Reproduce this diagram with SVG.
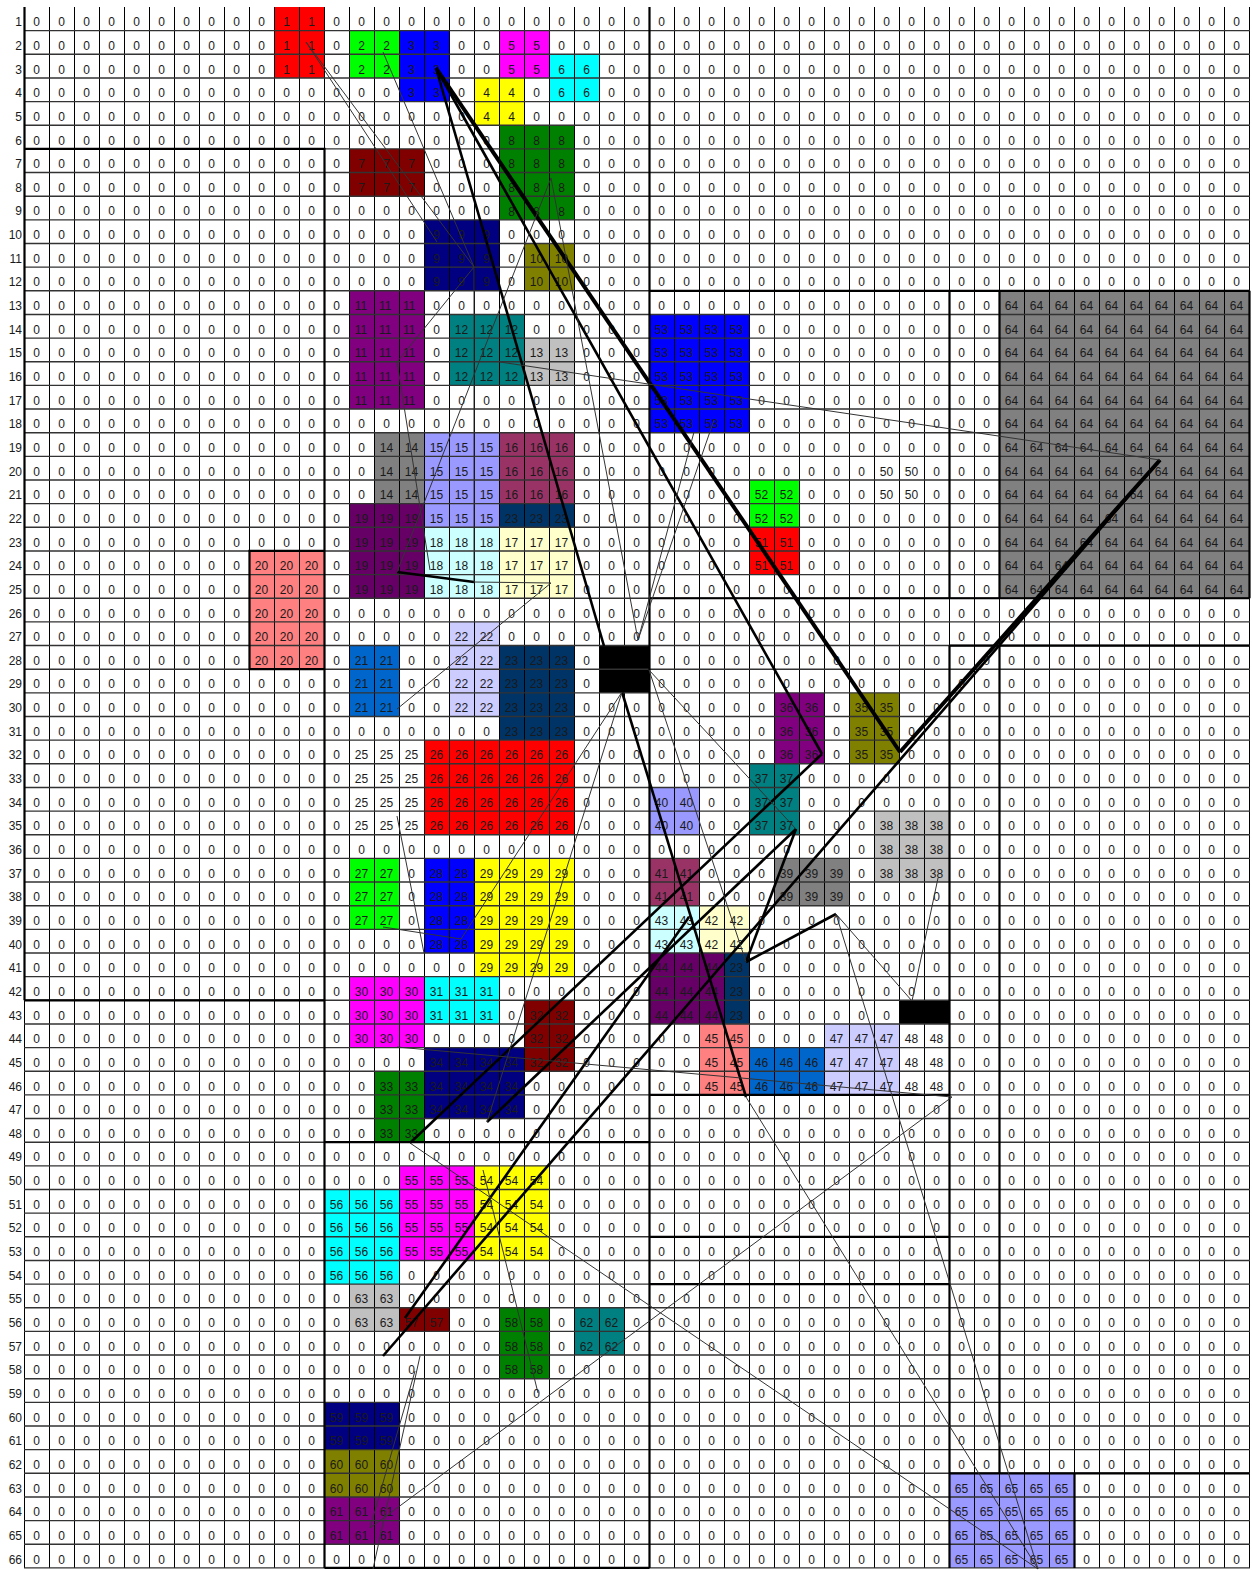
<svg xmlns="http://www.w3.org/2000/svg" width="1252" height="1570" viewBox="0 0 1252 1570">
<style>
text{font-family:"Liberation Sans",Arial,sans-serif;font-size:12px;fill:#1a1a1a}
.rn{text-anchor:end}
.z,.s1{word-spacing:14.992px}
.s2{word-spacing:8.318px}
.grid{fill:none;stroke:#000;stroke-width:1}
.hgrid{fill:none;stroke:#333;stroke-width:1.4}
.bord{fill:none;stroke:#000;stroke-width:2.2}
.c1{stroke:#333;stroke-width:1;fill:none}
.c3{stroke:#000;stroke-width:2.6;fill:none}
.c4{stroke:#000;stroke-width:4;fill:none}
</style>
<rect width="1252" height="1570" fill="#fff"/>
<g id="rows">
<g transform="translate(0,7)"><text class="rn" x="22" y="19.3">1</text><text class="z" x="33.16" y="19.3">0 0 0 0 0 0 0 0 0 0</text><text class="z" x="333.16" y="19.3">0 0 0 0 0 0 0 0 0 0 0 0 0 0 0 0 0 0 0 0 0 0 0 0 0 0 0 0 0 0 0 0 0 0 0 0 0</text></g>
<g transform="translate(0,30.65)"><text class="rn" x="22" y="19.3">2</text><text class="z" x="33.16" y="19.3">0 0 0 0 0 0 0 0 0 0</text><text class="z" x="333.16" y="19.3">0</text><text class="z" x="458.16" y="19.3">0 0</text><text class="z" x="558.16" y="19.3">0 0 0 0 0 0 0 0 0 0 0 0 0 0 0 0 0 0 0 0 0 0 0 0 0 0 0 0</text></g>
<g transform="translate(0,54.3)"><text class="rn" x="22" y="19.3">3</text><text class="z" x="33.16" y="19.3">0 0 0 0 0 0 0 0 0 0</text><text class="z" x="333.16" y="19.3">0</text><text class="z" x="458.16" y="19.3">0 0</text><text class="z" x="608.16" y="19.3">0 0 0 0 0 0 0 0 0 0 0 0 0 0 0 0 0 0 0 0 0 0 0 0 0 0</text></g>
<g transform="translate(0,77.95)"><text class="rn" x="22" y="19.3">4</text><text class="z" x="33.16" y="19.3">0 0 0 0 0 0 0 0 0 0 0 0 0 0 0</text><text class="z" x="458.16" y="19.3">0</text><text class="z" x="533.16" y="19.3">0</text><text class="z" x="608.16" y="19.3">0 0 0 0 0 0 0 0 0 0 0 0 0 0 0 0 0 0 0 0 0 0 0 0 0 0</text></g>
<g transform="translate(0,101.6)"><text class="rn" x="22" y="19.3">5</text><text class="z" x="33.16" y="19.3">0 0 0 0 0 0 0 0 0 0 0 0 0 0 0 0 0 0</text><text class="z" x="533.16" y="19.3">0 0 0 0 0 0 0 0 0 0 0 0 0 0 0 0 0 0 0 0 0 0 0 0 0 0 0 0 0</text></g>
<g transform="translate(0,125.25)"><text class="rn" x="22" y="19.3">6</text><text class="z" x="33.16" y="19.3">0 0 0 0 0 0 0 0 0 0 0 0 0 0 0 0 0 0 0</text><text class="z" x="583.16" y="19.3">0 0 0 0 0 0 0 0 0 0 0 0 0 0 0 0 0 0 0 0 0 0 0 0 0 0 0</text></g>
<g transform="translate(0,148.9)"><text class="rn" x="22" y="19.3">7</text><text class="z" x="33.16" y="19.3">0 0 0 0 0 0 0 0 0 0 0 0 0</text><text class="z" x="433.16" y="19.3">0 0 0</text><text class="z" x="583.16" y="19.3">0 0 0 0 0 0 0 0 0 0 0 0 0 0 0 0 0 0 0 0 0 0 0 0 0 0 0</text></g>
<g transform="translate(0,172.55)"><text class="rn" x="22" y="19.3">8</text><text class="z" x="33.16" y="19.3">0 0 0 0 0 0 0 0 0 0 0 0 0</text><text class="z" x="433.16" y="19.3">0 0 0</text><text class="z" x="583.16" y="19.3">0 0 0 0 0 0 0 0 0 0 0 0 0 0 0 0 0 0 0 0 0 0 0 0 0 0 0</text></g>
<g transform="translate(0,196.2)"><text class="rn" x="22" y="19.3">9</text><text class="z" x="33.16" y="19.3">0 0 0 0 0 0 0 0 0 0 0 0 0 0 0 0 0 0 0</text><text class="z" x="583.16" y="19.3">0 0 0 0 0 0 0 0 0 0 0 0 0 0 0 0 0 0 0 0 0 0 0 0 0 0 0</text></g>
<g transform="translate(0,219.85)"><text class="rn" x="22" y="19.3">10</text><text class="z" x="33.16" y="19.3">0 0 0 0 0 0 0 0 0 0 0 0 0 0 0 0</text><text class="z" x="508.16" y="19.3">0 0 0 0 0 0 0 0 0 0 0 0 0 0 0 0 0 0 0 0 0 0 0 0 0 0 0 0 0 0</text></g>
<g transform="translate(0,243.5)"><text class="rn" x="22" y="19.3">11</text><text class="z" x="33.16" y="19.3">0 0 0 0 0 0 0 0 0 0 0 0 0 0 0 0</text><text class="z" x="508.16" y="19.3">0</text><text class="z" x="583.16" y="19.3">0 0 0 0 0 0 0 0 0 0 0 0 0 0 0 0 0 0 0 0 0 0 0 0 0 0 0</text></g>
<g transform="translate(0,267.15)"><text class="rn" x="22" y="19.3">12</text><text class="z" x="33.16" y="19.3">0 0 0 0 0 0 0 0 0 0 0 0 0 0 0 0</text><text class="z" x="508.16" y="19.3">0</text><text class="z" x="583.16" y="19.3">0 0 0 0 0 0 0 0 0 0 0 0 0 0 0 0 0 0 0 0 0 0 0 0 0 0 0</text></g>
<g transform="translate(0,290.8)"><text class="rn" x="22" y="19.3">13</text><text class="z" x="33.16" y="19.3">0 0 0 0 0 0 0 0 0 0 0 0 0</text><text class="z" x="433.16" y="19.3">0 0 0 0 0 0 0 0 0 0 0 0 0 0 0 0 0 0 0 0 0 0 0</text></g>
<g transform="translate(0,314.45)"><text class="rn" x="22" y="19.3">14</text><text class="z" x="33.16" y="19.3">0 0 0 0 0 0 0 0 0 0 0 0 0</text><text class="z" x="433.16" y="19.3">0</text><text class="z" x="533.16" y="19.3">0 0 0 0 0</text><text class="z" x="758.16" y="19.3">0 0 0 0 0 0 0 0 0 0</text></g>
<g transform="translate(0,338.1)"><text class="rn" x="22" y="19.3">15</text><text class="z" x="33.16" y="19.3">0 0 0 0 0 0 0 0 0 0 0 0 0</text><text class="z" x="433.16" y="19.3">0</text><text class="z" x="583.16" y="19.3">0 0 0</text><text class="z" x="758.16" y="19.3">0 0 0 0 0 0 0 0 0 0</text></g>
<g transform="translate(0,361.75)"><text class="rn" x="22" y="19.3">16</text><text class="z" x="33.16" y="19.3">0 0 0 0 0 0 0 0 0 0 0 0 0</text><text class="z" x="433.16" y="19.3">0</text><text class="z" x="583.16" y="19.3">0 0 0</text><text class="z" x="758.16" y="19.3">0 0 0 0 0 0 0 0 0 0</text></g>
<g transform="translate(0,385.4)"><text class="rn" x="22" y="19.3">17</text><text class="z" x="33.16" y="19.3">0 0 0 0 0 0 0 0 0 0 0 0 0</text><text class="z" x="433.16" y="19.3">0 0 0 0 0 0 0 0 0</text><text class="z" x="758.16" y="19.3">0 0 0 0 0 0 0 0 0 0</text></g>
<g transform="translate(0,409.05)"><text class="rn" x="22" y="19.3">18</text><text class="z" x="33.16" y="19.3">0 0 0 0 0 0 0 0 0 0 0 0 0 0 0 0 0 0 0 0 0 0 0 0 0</text><text class="z" x="758.16" y="19.3">0 0 0 0 0 0 0 0 0 0</text></g>
<g transform="translate(0,432.7)"><text class="rn" x="22" y="19.3">19</text><text class="z" x="33.16" y="19.3">0 0 0 0 0 0 0 0 0 0 0 0 0 0</text><text class="z" x="583.16" y="19.3">0 0 0 0 0 0 0 0 0 0 0 0 0 0 0 0 0</text></g>
<g transform="translate(0,456.35)"><text class="rn" x="22" y="19.3">20</text><text class="z" x="33.16" y="19.3">0 0 0 0 0 0 0 0 0 0 0 0 0 0</text><text class="z" x="583.16" y="19.3">0 0 0 0 0 0 0 0 0 0 0 0</text><text class="z" x="933.16" y="19.3">0 0 0</text></g>
<g transform="translate(0,480)"><text class="rn" x="22" y="19.3">21</text><text class="z" x="33.16" y="19.3">0 0 0 0 0 0 0 0 0 0 0 0 0 0</text><text class="z" x="583.16" y="19.3">0 0 0 0 0 0 0</text><text class="z" x="808.16" y="19.3">0 0 0</text><text class="z" x="933.16" y="19.3">0 0 0</text></g>
<g transform="translate(0,503.65)"><text class="rn" x="22" y="19.3">22</text><text class="z" x="33.16" y="19.3">0 0 0 0 0 0 0 0 0 0 0 0 0</text><text class="z" x="583.16" y="19.3">0 0 0 0 0 0 0</text><text class="z" x="808.16" y="19.3">0 0 0 0 0 0 0 0</text></g>
<g transform="translate(0,527.3)"><text class="rn" x="22" y="19.3">23</text><text class="z" x="33.16" y="19.3">0 0 0 0 0 0 0 0 0 0 0 0 0</text><text class="z" x="583.16" y="19.3">0 0 0 0 0 0 0</text><text class="z" x="808.16" y="19.3">0 0 0 0 0 0 0 0</text></g>
<g transform="translate(0,550.95)"><text class="rn" x="22" y="19.3">24</text><text class="z" x="33.16" y="19.3">0 0 0 0 0 0 0 0 0</text><text class="z" x="333.16" y="19.3">0</text><text class="z" x="583.16" y="19.3">0 0 0 0 0 0 0</text><text class="z" x="808.16" y="19.3">0 0 0 0 0 0 0 0</text></g>
<g transform="translate(0,574.6)"><text class="rn" x="22" y="19.3">25</text><text class="z" x="33.16" y="19.3">0 0 0 0 0 0 0 0 0</text><text class="z" x="333.16" y="19.3">0</text><text class="z" x="583.16" y="19.3">0 0 0 0 0 0 0 0 0 0 0 0 0 0 0 0 0</text></g>
<g transform="translate(0,598.25)"><text class="rn" x="22" y="19.3">26</text><text class="z" x="33.16" y="19.3">0 0 0 0 0 0 0 0 0</text><text class="z" x="333.16" y="19.3">0 0 0 0 0 0 0 0 0 0 0 0 0 0 0 0 0 0 0 0 0 0 0 0 0 0 0 0 0 0 0 0 0 0 0 0 0</text></g>
<g transform="translate(0,621.9)"><text class="rn" x="22" y="19.3">27</text><text class="z" x="33.16" y="19.3">0 0 0 0 0 0 0 0 0</text><text class="z" x="333.16" y="19.3">0 0 0 0 0</text><text class="z" x="508.16" y="19.3">0 0 0 0 0 0 0 0 0 0 0 0 0 0 0 0 0 0 0 0 0 0 0 0 0 0 0 0 0 0</text></g>
<g transform="translate(0,645.55)"><text class="rn" x="22" y="19.3">28</text><text class="z" x="33.16" y="19.3">0 0 0 0 0 0 0 0 0</text><text class="z" x="333.16" y="19.3">0</text><text class="z" x="408.16" y="19.3">0 0</text><text class="z" x="583.16" y="19.3">0</text><text class="z" x="658.16" y="19.3">0 0 0 0 0 0 0 0 0 0 0 0 0 0 0 0 0 0 0 0 0 0 0 0</text></g>
<g transform="translate(0,669.2)"><text class="rn" x="22" y="19.3">29</text><text class="z" x="33.16" y="19.3">0 0 0 0 0 0 0 0 0 0 0 0 0</text><text class="z" x="408.16" y="19.3">0 0</text><text class="z" x="583.16" y="19.3">0</text><text class="z" x="658.16" y="19.3">0 0 0 0 0 0 0 0 0 0 0 0 0 0 0 0 0 0 0 0 0 0 0 0</text></g>
<g transform="translate(0,692.85)"><text class="rn" x="22" y="19.3">30</text><text class="z" x="33.16" y="19.3">0 0 0 0 0 0 0 0 0 0 0 0 0</text><text class="z" x="408.16" y="19.3">0 0</text><text class="z" x="583.16" y="19.3">0 0 0 0 0 0 0 0</text><text class="z" x="833.16" y="19.3">0</text><text class="z" x="908.16" y="19.3">0 0 0 0 0 0 0 0 0 0 0 0 0 0</text></g>
<g transform="translate(0,716.5)"><text class="rn" x="22" y="19.3">31</text><text class="z" x="33.16" y="19.3">0 0 0 0 0 0 0 0 0 0 0 0 0 0 0 0 0 0 0</text><text class="z" x="583.16" y="19.3">0 0 0 0 0 0 0 0</text><text class="z" x="833.16" y="19.3">0</text><text class="z" x="908.16" y="19.3">0 0 0 0 0 0 0 0 0 0 0 0 0 0</text></g>
<g transform="translate(0,740.15)"><text class="rn" x="22" y="19.3">32</text><text class="z" x="33.16" y="19.3">0 0 0 0 0 0 0 0 0 0 0 0 0</text><text class="z" x="583.16" y="19.3">0 0 0 0 0 0 0 0</text><text class="z" x="833.16" y="19.3">0</text><text class="z" x="908.16" y="19.3">0 0 0 0 0 0 0 0 0 0 0 0 0 0</text></g>
<g transform="translate(0,763.8)"><text class="rn" x="22" y="19.3">33</text><text class="z" x="33.16" y="19.3">0 0 0 0 0 0 0 0 0 0 0 0 0</text><text class="z" x="583.16" y="19.3">0 0 0 0 0 0 0</text><text class="z" x="808.16" y="19.3">0 0 0 0 0 0 0 0 0 0 0 0 0 0 0 0 0 0</text></g>
<g transform="translate(0,787.45)"><text class="rn" x="22" y="19.3">34</text><text class="z" x="33.16" y="19.3">0 0 0 0 0 0 0 0 0 0 0 0 0</text><text class="z" x="583.16" y="19.3">0 0 0</text><text class="z" x="708.16" y="19.3">0 0</text><text class="z" x="808.16" y="19.3">0 0 0 0 0 0 0 0 0 0 0 0 0 0 0 0 0 0</text></g>
<g transform="translate(0,811.1)"><text class="rn" x="22" y="19.3">35</text><text class="z" x="33.16" y="19.3">0 0 0 0 0 0 0 0 0 0 0 0 0</text><text class="z" x="583.16" y="19.3">0 0 0</text><text class="z" x="708.16" y="19.3">0 0</text><text class="z" x="808.16" y="19.3">0 0 0</text><text class="z" x="958.16" y="19.3">0 0 0 0 0 0 0 0 0 0 0 0</text></g>
<g transform="translate(0,834.75)"><text class="rn" x="22" y="19.3">36</text><text class="z" x="33.16" y="19.3">0 0 0 0 0 0 0 0 0 0 0 0 0 0 0 0 0 0 0 0 0 0 0 0 0 0 0 0 0 0 0 0 0 0</text><text class="z" x="958.16" y="19.3">0 0 0 0 0 0 0 0 0 0 0 0</text></g>
<g transform="translate(0,858.4)"><text class="rn" x="22" y="19.3">37</text><text class="z" x="33.16" y="19.3">0 0 0 0 0 0 0 0 0 0 0 0 0</text><text class="z" x="408.16" y="19.3">0</text><text class="z" x="583.16" y="19.3">0 0 0</text><text class="z" x="708.16" y="19.3">0 0 0</text><text class="z" x="858.16" y="19.3">0</text><text class="z" x="958.16" y="19.3">0 0 0 0 0 0 0 0 0 0 0 0</text></g>
<g transform="translate(0,882.05)"><text class="rn" x="22" y="19.3">38</text><text class="z" x="33.16" y="19.3">0 0 0 0 0 0 0 0 0 0 0 0 0</text><text class="z" x="408.16" y="19.3">0</text><text class="z" x="583.16" y="19.3">0 0 0</text><text class="z" x="708.16" y="19.3">0 0 0</text><text class="z" x="858.16" y="19.3">0 0 0 0 0 0 0 0 0 0 0 0 0 0 0 0</text></g>
<g transform="translate(0,905.7)"><text class="rn" x="22" y="19.3">39</text><text class="z" x="33.16" y="19.3">0 0 0 0 0 0 0 0 0 0 0 0 0</text><text class="z" x="408.16" y="19.3">0</text><text class="z" x="583.16" y="19.3">0 0 0</text><text class="z" x="758.16" y="19.3">0 0 0 0 0 0 0 0 0 0 0 0 0 0 0 0 0 0 0 0</text></g>
<g transform="translate(0,929.35)"><text class="rn" x="22" y="19.3">40</text><text class="z" x="33.16" y="19.3">0 0 0 0 0 0 0 0 0 0 0 0 0 0 0 0</text><text class="z" x="583.16" y="19.3">0 0 0</text><text class="z" x="758.16" y="19.3">0 0 0 0 0 0 0 0 0 0 0 0 0 0 0 0 0 0 0 0</text></g>
<g transform="translate(0,953)"><text class="rn" x="22" y="19.3">41</text><text class="z" x="33.16" y="19.3">0 0 0 0 0 0 0 0 0 0 0 0 0 0 0 0 0 0</text><text class="z" x="583.16" y="19.3">0 0 0</text><text class="z" x="758.16" y="19.3">0 0 0 0 0 0 0 0 0 0 0 0 0 0 0 0 0 0 0 0</text></g>
<g transform="translate(0,976.65)"><text class="rn" x="22" y="19.3">42</text><text class="z" x="33.16" y="19.3">0 0 0 0 0 0 0 0 0 0 0 0 0</text><text class="z" x="508.16" y="19.3">0 0 0 0 0 0</text><text class="z" x="758.16" y="19.3">0 0 0 0 0 0 0 0 0 0 0 0 0 0 0 0 0 0 0 0</text></g>
<g transform="translate(0,1000.3)"><text class="rn" x="22" y="19.3">43</text><text class="z" x="33.16" y="19.3">0 0 0 0 0 0 0 0 0 0 0 0 0</text><text class="z" x="508.16" y="19.3">0</text><text class="z" x="583.16" y="19.3">0 0 0</text><text class="z" x="758.16" y="19.3">0 0 0 0 0 0</text><text class="z" x="958.16" y="19.3">0 0 0 0 0 0 0 0 0 0 0 0</text></g>
<g transform="translate(0,1023.95)"><text class="rn" x="22" y="19.3">44</text><text class="z" x="33.16" y="19.3">0 0 0 0 0 0 0 0 0 0 0 0 0</text><text class="z" x="433.16" y="19.3">0 0 0 0</text><text class="z" x="583.16" y="19.3">0 0 0 0 0</text><text class="z" x="758.16" y="19.3">0 0 0</text><text class="z" x="958.16" y="19.3">0 0 0 0 0 0 0 0 0 0 0 0</text></g>
<g transform="translate(0,1047.6)"><text class="rn" x="22" y="19.3">45</text><text class="z" x="33.16" y="19.3">0 0 0 0 0 0 0 0 0 0 0 0 0 0 0 0</text><text class="z" x="583.16" y="19.3">0 0 0 0 0</text><text class="z" x="958.16" y="19.3">0 0 0 0 0 0 0 0 0 0 0 0</text></g>
<g transform="translate(0,1071.25)"><text class="rn" x="22" y="19.3">46</text><text class="z" x="33.16" y="19.3">0 0 0 0 0 0 0 0 0 0 0 0 0 0</text><text class="z" x="533.16" y="19.3">0 0 0 0 0 0 0</text><text class="z" x="958.16" y="19.3">0 0 0 0 0 0 0 0 0 0 0 0</text></g>
<g transform="translate(0,1094.9)"><text class="rn" x="22" y="19.3">47</text><text class="z" x="33.16" y="19.3">0 0 0 0 0 0 0 0 0 0 0 0 0 0</text><text class="z" x="533.16" y="19.3">0 0 0 0 0 0 0 0 0 0 0 0 0 0 0 0 0 0 0 0 0 0 0 0 0 0 0 0 0</text></g>
<g transform="translate(0,1118.55)"><text class="rn" x="22" y="19.3">48</text><text class="z" x="33.16" y="19.3">0 0 0 0 0 0 0 0 0 0 0 0 0 0</text><text class="z" x="433.16" y="19.3">0 0 0 0 0 0 0 0 0 0 0 0 0 0 0 0 0 0 0 0 0 0 0 0 0 0 0 0 0 0 0 0 0</text></g>
<g transform="translate(0,1142.2)"><text class="rn" x="22" y="19.3">49</text><text class="z" x="33.16" y="19.3">0 0 0 0 0 0 0 0 0 0 0 0 0 0 0 0 0 0 0 0 0 0 0 0 0 0 0 0 0 0 0 0 0 0 0 0 0 0 0 0 0 0 0 0 0 0 0 0 0</text></g>
<g transform="translate(0,1165.85)"><text class="rn" x="22" y="19.3">50</text><text class="z" x="33.16" y="19.3">0 0 0 0 0 0 0 0 0 0 0 0 0 0 0</text><text class="z" x="558.16" y="19.3">0 0 0 0 0 0 0 0 0 0 0 0 0 0 0 0 0 0 0 0 0 0 0 0 0 0 0 0</text></g>
<g transform="translate(0,1189.5)"><text class="rn" x="22" y="19.3">51</text><text class="z" x="33.16" y="19.3">0 0 0 0 0 0 0 0 0 0 0 0</text><text class="z" x="558.16" y="19.3">0 0 0 0 0 0 0 0 0 0 0 0 0 0 0 0 0 0 0 0 0 0 0 0 0 0 0 0</text></g>
<g transform="translate(0,1213.15)"><text class="rn" x="22" y="19.3">52</text><text class="z" x="33.16" y="19.3">0 0 0 0 0 0 0 0 0 0 0 0</text><text class="z" x="558.16" y="19.3">0 0 0 0 0 0 0 0 0 0 0 0 0 0 0 0 0 0 0 0 0 0 0 0 0 0 0 0</text></g>
<g transform="translate(0,1236.8)"><text class="rn" x="22" y="19.3">53</text><text class="z" x="33.16" y="19.3">0 0 0 0 0 0 0 0 0 0 0 0</text><text class="z" x="558.16" y="19.3">0 0 0 0 0 0 0 0 0 0 0 0 0 0 0 0 0 0 0 0 0 0 0 0 0 0 0 0</text></g>
<g transform="translate(0,1260.45)"><text class="rn" x="22" y="19.3">54</text><text class="z" x="33.16" y="19.3">0 0 0 0 0 0 0 0 0 0 0 0</text><text class="z" x="408.16" y="19.3">0 0 0 0 0 0 0 0 0 0 0 0 0 0 0 0 0 0 0 0 0 0 0 0 0 0 0 0 0 0 0 0 0 0</text></g>
<g transform="translate(0,1284.1)"><text class="rn" x="22" y="19.3">55</text><text class="z" x="33.16" y="19.3">0 0 0 0 0 0 0 0 0 0 0 0 0</text><text class="z" x="408.16" y="19.3">0 0 0 0 0 0 0 0 0 0 0 0 0 0 0 0 0 0 0 0 0 0 0 0 0 0 0 0 0 0 0 0 0 0</text></g>
<g transform="translate(0,1307.75)"><text class="rn" x="22" y="19.3">56</text><text class="z" x="33.16" y="19.3">0 0 0 0 0 0 0 0 0 0 0 0 0</text><text class="z" x="458.16" y="19.3">0 0</text><text class="z" x="558.16" y="19.3">0</text><text class="z" x="633.16" y="19.3">0 0 0 0 0 0 0 0 0 0 0 0 0 0 0 0 0 0 0 0 0 0 0 0 0</text></g>
<g transform="translate(0,1331.4)"><text class="rn" x="22" y="19.3">57</text><text class="z" x="33.16" y="19.3">0 0 0 0 0 0 0 0 0 0 0 0 0 0 0 0 0 0 0</text><text class="z" x="558.16" y="19.3">0</text><text class="z" x="633.16" y="19.3">0 0 0 0 0 0 0 0 0 0 0 0 0 0 0 0 0 0 0 0 0 0 0 0 0</text></g>
<g transform="translate(0,1355.05)"><text class="rn" x="22" y="19.3">58</text><text class="z" x="33.16" y="19.3">0 0 0 0 0 0 0 0 0 0 0 0 0 0 0 0 0 0 0</text><text class="z" x="558.16" y="19.3">0 0 0 0 0 0 0 0 0 0 0 0 0 0 0 0 0 0 0 0 0 0 0 0 0 0 0 0</text></g>
<g transform="translate(0,1378.7)"><text class="rn" x="22" y="19.3">59</text><text class="z" x="33.16" y="19.3">0 0 0 0 0 0 0 0 0 0 0 0 0 0 0 0 0 0 0 0 0 0 0 0 0 0 0 0 0 0 0 0 0 0 0 0 0 0 0 0 0 0 0 0 0 0 0 0 0</text></g>
<g transform="translate(0,1402.35)"><text class="rn" x="22" y="19.3">60</text><text class="z" x="33.16" y="19.3">0 0 0 0 0 0 0 0 0 0 0 0</text><text class="z" x="408.16" y="19.3">0 0 0 0 0 0 0 0 0 0 0 0 0 0 0 0 0 0 0 0 0 0 0 0 0 0 0 0 0 0 0 0 0 0</text></g>
<g transform="translate(0,1426)"><text class="rn" x="22" y="19.3">61</text><text class="z" x="33.16" y="19.3">0 0 0 0 0 0 0 0 0 0 0 0</text><text class="z" x="408.16" y="19.3">0 0 0 0 0 0 0 0 0 0 0 0 0 0 0 0 0 0 0 0 0 0 0 0 0 0 0 0 0 0 0 0 0 0</text></g>
<g transform="translate(0,1449.65)"><text class="rn" x="22" y="19.3">62</text><text class="z" x="33.16" y="19.3">0 0 0 0 0 0 0 0 0 0 0 0</text><text class="z" x="408.16" y="19.3">0 0 0 0 0 0 0 0 0 0 0 0 0 0 0 0 0 0 0 0 0 0 0 0 0 0 0 0 0 0 0 0 0 0</text></g>
<g transform="translate(0,1473.3)"><text class="rn" x="22" y="19.3">63</text><text class="z" x="33.16" y="19.3">0 0 0 0 0 0 0 0 0 0 0 0</text><text class="z" x="408.16" y="19.3">0 0 0 0 0 0 0 0 0 0 0 0 0 0 0 0 0 0 0 0 0 0</text><text class="z" x="1083.16" y="19.3">0 0 0 0 0 0 0</text></g>
<g transform="translate(0,1496.95)"><text class="rn" x="22" y="19.3">64</text><text class="z" x="33.16" y="19.3">0 0 0 0 0 0 0 0 0 0 0 0</text><text class="z" x="408.16" y="19.3">0 0 0 0 0 0 0 0 0 0 0 0 0 0 0 0 0 0 0 0 0 0</text><text class="z" x="1083.16" y="19.3">0 0 0 0 0 0 0</text></g>
<g transform="translate(0,1520.6)"><text class="rn" x="22" y="19.3">65</text><text class="z" x="33.16" y="19.3">0 0 0 0 0 0 0 0 0 0 0 0</text><text class="z" x="408.16" y="19.3">0 0 0 0 0 0 0 0 0 0 0 0 0 0 0 0 0 0 0 0 0 0</text><text class="z" x="1083.16" y="19.3">0 0 0 0 0 0 0</text></g>
<g transform="translate(0,1544.25)"><text class="rn" x="22" y="19.3">66</text><text class="z" x="33.16" y="19.3">0 0 0 0 0 0 0 0 0 0 0 0 0 0 0 0 0 0 0 0 0 0 0 0 0 0 0 0 0 0 0 0 0 0 0 0 0</text><text class="z" x="1083.16" y="19.3">0 0 0 0 0 0 0</text></g>
</g>
<g id="nodes">
<g id="n1" transform="translate(274,7)"><rect width="50" height="70.95" fill="#FF0000"/><text class="s1" x="9.16" y="19.3">1 1</text><text class="s1" x="9.16" y="42.95">1 1</text><text class="s1" x="9.16" y="66.6">1 1</text></g>
<g id="n2" transform="translate(349,30.65)"><rect width="50" height="47.3" fill="#00FF00"/><text class="s1" x="9.16" y="19.3">2 2</text><text class="s1" x="9.16" y="42.95">2 2</text></g>
<g id="n3" transform="translate(399,30.65)"><rect width="50" height="70.95" fill="#0000FF"/><text class="s1" x="9.16" y="19.3">3 3</text><text class="s1" x="9.16" y="42.95">3 3</text><text class="s1" x="9.16" y="66.6">3 3</text></g>
<g id="n5" transform="translate(499,30.65)"><rect width="50" height="47.3" fill="#FF00FF"/><text class="s1" x="9.16" y="19.3">5 5</text><text class="s1" x="9.16" y="42.95">5 5</text></g>
<g id="n6" transform="translate(549,54.3)"><rect width="50" height="47.3" fill="#00FFFF"/><text class="s1" x="9.16" y="19.3">6 6</text><text class="s1" x="9.16" y="42.95">6 6</text></g>
<g id="n4" transform="translate(474,77.95)"><rect width="50" height="47.3" fill="#FFFF00"/><text class="s1" x="9.16" y="19.3">4 4</text><text class="s1" x="9.16" y="42.95">4 4</text></g>
<g id="n8" transform="translate(499,125.25)"><rect width="75" height="94.6" fill="#008000"/><text class="s1" x="9.16" y="19.3">8 8 8</text><text class="s1" x="9.16" y="42.95">8 8 8</text><text class="s1" x="9.16" y="66.6">8 8 8</text><text class="s1" x="9.16" y="90.25">8 8 8</text></g>
<g id="n7" transform="translate(349,148.9)"><rect width="75" height="47.3" fill="#800000"/><text class="s1" x="9.16" y="19.3">7 7 7</text><text class="s1" x="9.16" y="42.95">7 7 7</text></g>
<g id="n9" transform="translate(424,219.85)"><rect width="75" height="70.95" fill="#000080"/><text class="s1" x="9.16" y="19.3">9 9 9</text><text class="s1" x="9.16" y="42.95">9 9 9</text><text class="s1" x="9.16" y="66.6">9 9 9</text></g>
<g id="n10" transform="translate(524,243.5)"><rect width="50" height="47.3" fill="#808000"/><text class="s2" x="5.83" y="19.3">10 10</text><text class="s2" x="5.83" y="42.95">10 10</text></g>
<g id="n11" transform="translate(349,290.8)"><rect width="75" height="118.25" fill="#800080"/><text class="s2" x="5.83" y="19.3">11 11 11</text><text class="s2" x="5.83" y="42.95">11 11 11</text><text class="s2" x="5.83" y="66.6">11 11 11</text><text class="s2" x="5.83" y="90.25">11 11 11</text><text class="s2" x="5.83" y="113.9">11 11 11</text></g>
<g id="n12" transform="translate(449,314.45)"><rect width="75" height="70.95" fill="#008080"/><text class="s2" x="5.83" y="19.3">12 12 12</text><text class="s2" x="5.83" y="42.95">12 12 12</text><text class="s2" x="5.83" y="66.6">12 12 12</text></g>
<g id="n13" transform="translate(524,338.1)"><rect width="50" height="47.3" fill="#C0C0C0"/><text class="s2" x="5.83" y="19.3">13 13</text><text class="s2" x="5.83" y="42.95">13 13</text></g>
<g id="n53" transform="translate(649,314.45)"><rect width="100" height="118.25" fill="#0000FF"/><text class="s2" x="5.83" y="19.3">53 53 53 53</text><text class="s2" x="5.83" y="42.95">53 53 53 53</text><text class="s2" x="5.83" y="66.6">53 53 53 53</text><text class="s2" x="5.83" y="90.25">53 53 53 53</text><text class="s2" x="5.83" y="113.9">53 53 53 53</text></g>
<g id="n64" transform="translate(999,290.8)"><rect width="250" height="307.45" fill="#808080"/><text class="s2" x="5.83" y="19.3">64 64 64 64 64 64 64 64 64 64</text><text class="s2" x="5.83" y="42.95">64 64 64 64 64 64 64 64 64 64</text><text class="s2" x="5.83" y="66.6">64 64 64 64 64 64 64 64 64 64</text><text class="s2" x="5.83" y="90.25">64 64 64 64 64 64 64 64 64 64</text><text class="s2" x="5.83" y="113.9">64 64 64 64 64 64 64 64 64 64</text><text class="s2" x="5.83" y="137.55">64 64 64 64 64 64 64 64 64 64</text><text class="s2" x="5.83" y="161.2">64 64 64 64 64 64 64 64 64 64</text><text class="s2" x="5.83" y="184.85">64 64 64 64 64 64 64 64 64 64</text><text class="s2" x="5.83" y="208.5">64 64 64 64 64 64 64 64 64 64</text><text class="s2" x="5.83" y="232.15">64 64 64 64 64 64 64 64 64 64</text><text class="s2" x="5.83" y="255.8">64 64 64 64 64 64 64 64 64 64</text><text class="s2" x="5.83" y="279.45">64 64 64 64 64 64 64 64 64 64</text><text class="s2" x="5.83" y="303.1">64 64 64 64 64 64 64 64 64 64</text></g>
<g id="n14" transform="translate(374,432.7)"><rect width="50" height="70.95" fill="#808080"/><text class="s2" x="5.83" y="19.3">14 14</text><text class="s2" x="5.83" y="42.95">14 14</text><text class="s2" x="5.83" y="66.6">14 14</text></g>
<g id="n15" transform="translate(424,432.7)"><rect width="75" height="94.6" fill="#9999FF"/><text class="s2" x="5.83" y="19.3">15 15 15</text><text class="s2" x="5.83" y="42.95">15 15 15</text><text class="s2" x="5.83" y="66.6">15 15 15</text><text class="s2" x="5.83" y="90.25">15 15 15</text></g>
<g id="n16" transform="translate(499,432.7)"><rect width="75" height="70.95" fill="#993366"/><text class="s2" x="5.83" y="19.3">16 16 16</text><text class="s2" x="5.83" y="42.95">16 16 16</text><text class="s2" x="5.83" y="66.6">16 16 16</text></g>
<g id="n23a" transform="translate(499,503.65)"><rect width="75" height="23.65" fill="#003366"/><text class="s2" x="5.83" y="19.3">23 23 23</text></g>
<g id="n19" transform="translate(349,503.65)"><rect width="75" height="94.6" fill="#660066"/><text class="s2" x="5.83" y="19.3">19 19 19</text><text class="s2" x="5.83" y="42.95">19 19 19</text><text class="s2" x="5.83" y="66.6">19 19 19</text><text class="s2" x="5.83" y="90.25">19 19 19</text></g>
<g id="n18" transform="translate(424,527.3)"><rect width="75" height="70.95" fill="#CCFFFF"/><text class="s2" x="5.83" y="19.3">18 18 18</text><text class="s2" x="5.83" y="42.95">18 18 18</text><text class="s2" x="5.83" y="66.6">18 18 18</text></g>
<g id="n17" transform="translate(499,527.3)"><rect width="75" height="70.95" fill="#FFFFCC"/><text class="s2" x="5.83" y="19.3">17 17 17</text><text class="s2" x="5.83" y="42.95">17 17 17</text><text class="s2" x="5.83" y="66.6">17 17 17</text></g>
<g id="n20" transform="translate(249,550.95)"><rect width="75" height="118.25" fill="#FF8080"/><text class="s2" x="5.83" y="19.3">20 20 20</text><text class="s2" x="5.83" y="42.95">20 20 20</text><text class="s2" x="5.83" y="66.6">20 20 20</text><text class="s2" x="5.83" y="90.25">20 20 20</text><text class="s2" x="5.83" y="113.9">20 20 20</text></g>
<g id="n52" transform="translate(749,480)"><rect width="50" height="47.3" fill="#00FF00"/><text class="s2" x="5.83" y="19.3">52 52</text><text class="s2" x="5.83" y="42.95">52 52</text></g>
<g id="n51" transform="translate(749,527.3)"><rect width="50" height="47.3" fill="#FF0000"/><text class="s2" x="5.83" y="19.3">51 51</text><text class="s2" x="5.83" y="42.95">51 51</text></g>
<g id="n50" transform="translate(874,456.35)"><text class="s2" x="5.83" y="19.3">50 50</text><text class="s2" x="5.83" y="42.95">50 50</text></g>
<g id="n22" transform="translate(449,621.9)"><rect width="50" height="94.6" fill="#CCCCFF"/><text class="s2" x="5.83" y="19.3">22 22</text><text class="s2" x="5.83" y="42.95">22 22</text><text class="s2" x="5.83" y="66.6">22 22</text><text class="s2" x="5.83" y="90.25">22 22</text></g>
<g id="n21" transform="translate(349,645.55)"><rect width="50" height="70.95" fill="#0066CC"/><text class="s2" x="5.83" y="19.3">21 21</text><text class="s2" x="5.83" y="42.95">21 21</text><text class="s2" x="5.83" y="66.6">21 21</text></g>
<g id="n23b" transform="translate(499,645.55)"><rect width="75" height="94.6" fill="#003366"/><text class="s2" x="5.83" y="19.3">23 23 23</text><text class="s2" x="5.83" y="42.95">23 23 23</text><text class="s2" x="5.83" y="66.6">23 23 23</text><text class="s2" x="5.83" y="90.25">23 23 23</text></g>
<g id="blkA"><rect x="599" y="645.55" width="50" height="47.3" fill="#000"/></g>
<g id="n36" transform="translate(774,692.85)"><rect width="50" height="70.95" fill="#800080"/><text class="s2" x="5.83" y="19.3">36 36</text><text class="s2" x="5.83" y="42.95">36 36</text><text class="s2" x="5.83" y="66.6">36 36</text></g>
<g id="n35" transform="translate(849,692.85)"><rect width="50" height="70.95" fill="#808000"/><text class="s2" x="5.83" y="19.3">35 35</text><text class="s2" x="5.83" y="42.95">35 35</text><text class="s2" x="5.83" y="66.6">35 35</text></g>
<g id="n25" transform="translate(349,740.15)"><text class="s2" x="5.83" y="19.3">25 25 25</text><text class="s2" x="5.83" y="42.95">25 25 25</text><text class="s2" x="5.83" y="66.6">25 25 25</text><text class="s2" x="5.83" y="90.25">25 25 25</text></g>
<g id="n26" transform="translate(424,740.15)"><rect width="150" height="94.6" fill="#FF0000"/><text class="s2" x="5.83" y="19.3">26 26 26 26 26 26</text><text class="s2" x="5.83" y="42.95">26 26 26 26 26 26</text><text class="s2" x="5.83" y="66.6">26 26 26 26 26 26</text><text class="s2" x="5.83" y="90.25">26 26 26 26 26 26</text></g>
<g id="n37" transform="translate(749,763.8)"><rect width="50" height="70.95" fill="#008080"/><text class="s2" x="5.83" y="19.3">37 37</text><text class="s2" x="5.83" y="42.95">37 37</text><text class="s2" x="5.83" y="66.6">37 37</text></g>
<g id="n40" transform="translate(649,787.45)"><rect width="50" height="47.3" fill="#9999FF"/><text class="s2" x="5.83" y="19.3">40 40</text><text class="s2" x="5.83" y="42.95">40 40</text></g>
<g id="n38" transform="translate(874,811.1)"><rect width="75" height="70.95" fill="#C0C0C0"/><text class="s2" x="5.83" y="19.3">38 38 38</text><text class="s2" x="5.83" y="42.95">38 38 38</text><text class="s2" x="5.83" y="66.6">38 38 38</text></g>
<g id="n27" transform="translate(349,858.4)"><rect width="50" height="70.95" fill="#00FF00"/><text class="s2" x="5.83" y="19.3">27 27</text><text class="s2" x="5.83" y="42.95">27 27</text><text class="s2" x="5.83" y="66.6">27 27</text></g>
<g id="n28" transform="translate(424,858.4)"><rect width="50" height="94.6" fill="#0000FF"/><text class="s2" x="5.83" y="19.3">28 28</text><text class="s2" x="5.83" y="42.95">28 28</text><text class="s2" x="5.83" y="66.6">28 28</text><text class="s2" x="5.83" y="90.25">28 28</text></g>
<g id="n29" transform="translate(474,858.4)"><rect width="100" height="118.25" fill="#FFFF00"/><text class="s2" x="5.83" y="19.3">29 29 29 29</text><text class="s2" x="5.83" y="42.95">29 29 29 29</text><text class="s2" x="5.83" y="66.6">29 29 29 29</text><text class="s2" x="5.83" y="90.25">29 29 29 29</text><text class="s2" x="5.83" y="113.9">29 29 29 29</text></g>
<g id="n41" transform="translate(649,858.4)"><rect width="50" height="47.3" fill="#993366"/><text class="s2" x="5.83" y="19.3">41 41</text><text class="s2" x="5.83" y="42.95">41 41</text></g>
<g id="n39" transform="translate(774,858.4)"><rect width="75" height="47.3" fill="#808080"/><text class="s2" x="5.83" y="19.3">39 39 39</text><text class="s2" x="5.83" y="42.95">39 39 39</text></g>
<g id="n43" transform="translate(649,905.7)"><rect width="50" height="47.3" fill="#CCFFFF"/><text class="s2" x="5.83" y="19.3">43 43</text><text class="s2" x="5.83" y="42.95">43 43</text></g>
<g id="n42" transform="translate(699,905.7)"><rect width="50" height="47.3" fill="#FFFFCC"/><text class="s2" x="5.83" y="19.3">42 42</text><text class="s2" x="5.83" y="42.95">42 42</text></g>
<g id="n44" transform="translate(649,953)"><rect width="75" height="70.95" fill="#660066"/><text class="s2" x="5.83" y="19.3">44 44 44</text><text class="s2" x="5.83" y="42.95">44 44 44</text><text class="s2" x="5.83" y="66.6">44 44 44</text></g>
<g id="n23c" transform="translate(724,953)"><rect width="25" height="70.95" fill="#003366"/><text class="s2" x="5.83" y="19.3">23</text><text class="s2" x="5.83" y="42.95">23</text><text class="s2" x="5.83" y="66.6">23</text></g>
<g id="n30" transform="translate(349,976.65)"><rect width="75" height="70.95" fill="#FF00FF"/><text class="s2" x="5.83" y="19.3">30 30 30</text><text class="s2" x="5.83" y="42.95">30 30 30</text><text class="s2" x="5.83" y="66.6">30 30 30</text></g>
<g id="n31" transform="translate(424,976.65)"><rect width="75" height="47.3" fill="#00FFFF"/><text class="s2" x="5.83" y="19.3">31 31 31</text><text class="s2" x="5.83" y="42.95">31 31 31</text></g>
<g id="n32" transform="translate(524,1000.3)"><rect width="50" height="70.95" fill="#800000"/><text class="s2" x="5.83" y="19.3">32 32</text><text class="s2" x="5.83" y="42.95">32 32</text><text class="s2" x="5.83" y="66.6">32 32</text></g>
<g id="blkB"><rect x="899" y="1000.3" width="50" height="23.65" fill="#000"/></g>
<g id="n45" transform="translate(699,1023.95)"><rect width="50" height="70.95" fill="#FF8080"/><text class="s2" x="5.83" y="19.3">45 45</text><text class="s2" x="5.83" y="42.95">45 45</text><text class="s2" x="5.83" y="66.6">45 45</text></g>
<g id="n47" transform="translate(824,1023.95)"><rect width="75" height="70.95" fill="#CCCCFF"/><text class="s2" x="5.83" y="19.3">47 47 47</text><text class="s2" x="5.83" y="42.95">47 47 47</text><text class="s2" x="5.83" y="66.6">47 47 47</text></g>
<g id="n48" transform="translate(899,1023.95)"><text class="s2" x="5.83" y="19.3">48 48</text><text class="s2" x="5.83" y="42.95">48 48</text><text class="s2" x="5.83" y="66.6">48 48</text></g>
<g id="n46" transform="translate(749,1047.6)"><rect width="75" height="47.3" fill="#0066CC"/><text class="s2" x="5.83" y="19.3">46 46 46</text><text class="s2" x="5.83" y="42.95">46 46 46</text></g>
<g id="n34" transform="translate(424,1047.6)"><rect width="100" height="70.95" fill="#000080"/><text class="s2" x="5.83" y="19.3">34 34 34 34</text><text class="s2" x="5.83" y="42.95">34 34 34 34</text><text class="s2" x="5.83" y="66.6">34 34 34 34</text></g>
<g id="n33" transform="translate(374,1071.25)"><rect width="50" height="70.95" fill="#008000"/><text class="s2" x="5.83" y="19.3">33 33</text><text class="s2" x="5.83" y="42.95">33 33</text><text class="s2" x="5.83" y="66.6">33 33</text></g>
<g id="n55" transform="translate(399,1165.85)"><rect width="75" height="94.6" fill="#FF00FF"/><text class="s2" x="5.83" y="19.3">55 55 55</text><text class="s2" x="5.83" y="42.95">55 55 55</text><text class="s2" x="5.83" y="66.6">55 55 55</text><text class="s2" x="5.83" y="90.25">55 55 55</text></g>
<g id="n54" transform="translate(474,1165.85)"><rect width="75" height="94.6" fill="#FFFF00"/><text class="s2" x="5.83" y="19.3">54 54 54</text><text class="s2" x="5.83" y="42.95">54 54 54</text><text class="s2" x="5.83" y="66.6">54 54 54</text><text class="s2" x="5.83" y="90.25">54 54 54</text></g>
<g id="n56" transform="translate(324,1189.5)"><rect width="75" height="94.6" fill="#00FFFF"/><text class="s2" x="5.83" y="19.3">56 56 56</text><text class="s2" x="5.83" y="42.95">56 56 56</text><text class="s2" x="5.83" y="66.6">56 56 56</text><text class="s2" x="5.83" y="90.25">56 56 56</text></g>
<g id="n63" transform="translate(349,1284.1)"><rect width="50" height="47.3" fill="#C0C0C0"/><text class="s2" x="5.83" y="19.3">63 63</text><text class="s2" x="5.83" y="42.95">63 63</text></g>
<g id="n57" transform="translate(399,1307.75)"><rect width="50" height="23.65" fill="#800000"/><text class="s2" x="5.83" y="19.3">57 57</text></g>
<g id="n58" transform="translate(499,1307.75)"><rect width="50" height="70.95" fill="#008000"/><text class="s2" x="5.83" y="19.3">58 58</text><text class="s2" x="5.83" y="42.95">58 58</text><text class="s2" x="5.83" y="66.6">58 58</text></g>
<g id="n62" transform="translate(574,1307.75)"><rect width="50" height="47.3" fill="#008080"/><text class="s2" x="5.83" y="19.3">62 62</text><text class="s2" x="5.83" y="42.95">62 62</text></g>
<g id="n59" transform="translate(324,1402.35)"><rect width="75" height="47.3" fill="#000080"/><text class="s2" x="5.83" y="19.3">59 59 59</text><text class="s2" x="5.83" y="42.95">59 59 59</text></g>
<g id="n60" transform="translate(324,1449.65)"><rect width="75" height="47.3" fill="#808000"/><text class="s2" x="5.83" y="19.3">60 60 60</text><text class="s2" x="5.83" y="42.95">60 60 60</text></g>
<g id="n61" transform="translate(324,1496.95)"><rect width="75" height="47.3" fill="#800080"/><text class="s2" x="5.83" y="19.3">61 61 61</text><text class="s2" x="5.83" y="42.95">61 61 61</text></g>
<g id="n65" transform="translate(949,1473.3)"><rect width="125" height="94.6" fill="#9999FF"/><text class="s2" x="5.83" y="19.3">65 65 65 65 65</text><text class="s2" x="5.83" y="42.95">65 65 65 65 65</text><text class="s2" x="5.83" y="66.6">65 65 65 65 65</text><text class="s2" x="5.83" y="90.25">65 65 65 65 65</text></g>
</g>
<g id="gridlines">
<path class="grid" d="M24.5 7V1568M49.5 7V1568M74.5 7V1568M99.5 7V1568M124.5 7V1568M149.5 7V1568M174.5 7V1568M199.5 7V1568M224.5 7V1568M249.5 7V1568M274.5 7V1568M299.5 7V1568M324.5 7V1568M349.5 7V1568M374.5 7V1568M399.5 7V1568M424.5 7V1568M449.5 7V1568M474.5 7V1568M499.5 7V1568M524.5 7V1568M549.5 7V1568M574.5 7V1568M599.5 7V1568M624.5 7V1568M649.5 7V1568M674.5 7V1568M699.5 7V1568M724.5 7V1568M749.5 7V1568M774.5 7V1568M799.5 7V1568M824.5 7V1568M849.5 7V1568M874.5 7V1568M899.5 7V1568M924.5 7V1568M949.5 7V1568M974.5 7V1568M999.5 7V1568M1024.5 7V1568M1049.5 7V1568M1074.5 7V1568M1099.5 7V1568M1124.5 7V1568M1149.5 7V1568M1174.5 7V1568M1199.5 7V1568M1224.5 7V1568M1249.5 7V1568"/>
<path class="hgrid" d="M24 30.65H1250M24 54.3H1250M24 77.95H1250M24 101.6H1250M24 125.25H1250M24 148.9H1250M24 172.55H1250M24 196.2H1250M24 219.85H1250M24 243.5H1250M24 267.15H1250M24 290.8H1250M24 314.45H1250M24 338.1H1250M24 361.75H1250M24 385.4H1250M24 409.05H1250M24 432.7H1250M24 456.35H1250M24 480H1250M24 503.65H1250M24 527.3H1250M24 550.95H1250M24 574.6H1250M24 598.25H1250M24 621.9H1250M24 645.55H1250M24 669.2H1250M24 692.85H1250M24 716.5H1250M24 740.15H1250M24 763.8H1250M24 787.45H1250M24 811.1H1250M24 834.75H1250M24 858.4H1250M24 882.05H1250M24 905.7H1250M24 929.35H1250M24 953H1250M24 976.65H1250M24 1000.3H1250M24 1023.95H1250M24 1047.6H1250M24 1071.25H1250M24 1094.9H1250M24 1118.55H1250M24 1142.2H1250M24 1165.85H1250M24 1189.5H1250M24 1213.15H1250M24 1236.8H1250M24 1260.45H1250M24 1284.1H1250M24 1307.75H1250M24 1331.4H1250M24 1355.05H1250M24 1378.7H1250M24 1402.35H1250M24 1426H1250M24 1449.65H1250M24 1473.3H1250M24 1496.95H1250M24 1520.6H1250M24 1544.25H1250M24 1567.9H1250"/>
</g>
<g id="borders">
<path class="bord" d="M24.5 7V1000.3M24.5 148.9H324.5V1568M24.5 1000.3H324.5M324.5 1142.2H649.5M324.5 1567.9H649.5M649.5 7V1568M249.5 550.95H324.5V669.2H249.5ZM649.5 290.8H1249.5M949.5 290.8V598.25M999.5 290.8V598.25M1249.5 290.8V598.25M649.5 598.25H1249.5M949.5 645.55H1249.5M949.5 645.55V1568M999.5 645.55V1473.3M649.5 1094.9H949.5M649.5 1236.8H949.5M649.5 1284.1H949.5M949.5 1473.3H1249.5M1074.5 1473.3V1568"/>
</g>
<g id="connectors">
<line class="c3" x1="436" y1="68" x2="604" y2="646"/>
<line class="c4" x1="436" y1="68" x2="900" y2="752"/>
<line class="c3" x1="436" y1="68" x2="822" y2="754"/>
<line class="c4" x1="1160" y1="460" x2="900" y2="752"/>
<line class="c3" x1="1160" y1="460" x2="383" y2="1356"/>
<line class="c3" x1="822" y1="754" x2="410" y2="1143"/>
<line class="c3" x1="622" y1="692" x2="746" y2="1097"/>
<line class="c3" x1="796" y1="829" x2="487" y2="1122"/>
<line class="c3" x1="796" y1="829" x2="746" y2="962"/>
<line class="c3" x1="836" y1="914" x2="746" y2="962"/>
<line class="c3" x1="689" y1="917" x2="405" y2="1318"/>
<line class="c3" x1="397" y1="572" x2="474" y2="582"/>
<line class="c1" x1="306" y1="42" x2="437" y2="242"/>
<line class="c1" x1="306" y1="42" x2="474" y2="267"/>
<line class="c1" x1="383" y1="52" x2="474" y2="267"/>
<line class="c1" x1="474" y1="267" x2="397" y2="362"/>
<line class="c1" x1="551" y1="178" x2="397" y2="572"/>
<line class="c1" x1="397" y1="362" x2="430" y2="570"/>
<line class="c1" x1="500" y1="362" x2="1160" y2="460"/>
<line class="c1" x1="474" y1="267" x2="474" y2="582"/>
<line class="c1" x1="474" y1="582" x2="551" y2="583"/>
<line class="c1" x1="551" y1="178" x2="638" y2="640"/>
<line class="c1" x1="714" y1="420" x2="638" y2="640"/>
<line class="c1" x1="694" y1="432" x2="638" y2="640"/>
<line class="c1" x1="397" y1="709" x2="551" y2="583"/>
<line class="c1" x1="649" y1="670" x2="796" y2="829"/>
<line class="c1" x1="649" y1="670" x2="746" y2="962"/>
<line class="c1" x1="622" y1="692" x2="461" y2="939"/>
<line class="c1" x1="622" y1="692" x2="487" y2="1122"/>
<line class="c1" x1="397" y1="816" x2="424" y2="953"/>
<line class="c1" x1="383" y1="927" x2="461" y2="939"/>
<line class="c1" x1="397" y1="1047" x2="952" y2="1097"/>
<line class="c1" x1="836" y1="914" x2="912" y2="1001"/>
<line class="c1" x1="410" y1="1143" x2="1038" y2="1569"/>
<line class="c1" x1="952" y1="1097" x2="370" y2="1528"/>
<line class="c1" x1="836" y1="914" x2="1038" y2="1569"/>
<line class="c1" x1="746" y1="1097" x2="1038" y2="1569"/>
<line class="c1" x1="373" y1="1569" x2="420" y2="1356"/>
<line class="c1" x1="370" y1="1528" x2="415" y2="1371"/>
<line class="c1" x1="483" y1="1170" x2="538" y2="1393"/>
<line class="c1" x1="938" y1="878" x2="912" y2="1001"/>
</g>
</svg>
